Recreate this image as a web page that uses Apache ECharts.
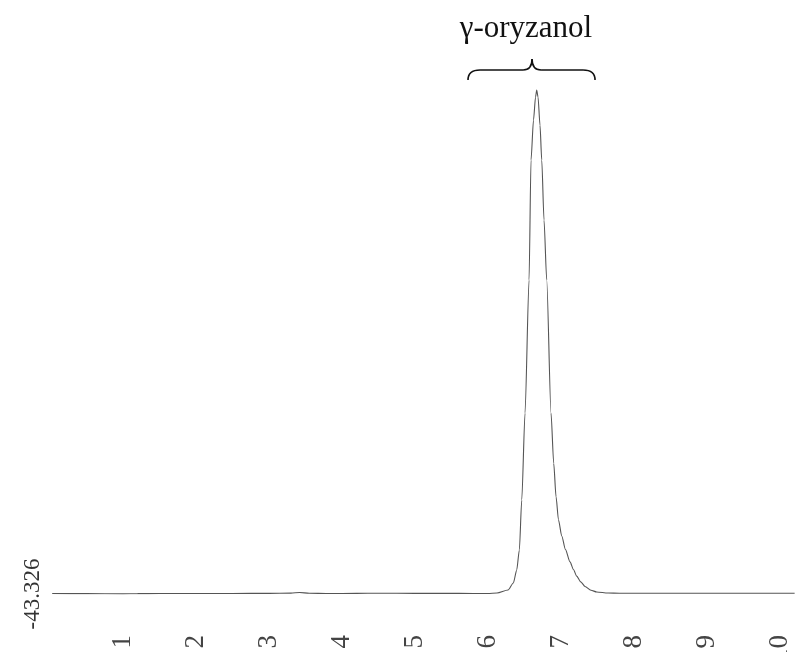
<!DOCTYPE html>
<html>
<head>
<meta charset="utf-8">
<script src="https://cdn.jsdelivr.net/npm/echarts@6/dist/echarts.min.js"></script>
<style>
html,body{margin:0;padding:0;background:#fff;}
#chart{width:795px;height:652px;}
</style>
</head>
<body>
<div id="chart"></div>
<script>
// Retention time (min)
const retentionTime = [0.03, 0.5, 1.0, 1.2, 1.5, 2.0, 2.5, 3.0, 3.3, 3.42, 3.55, 3.8, 4.2, 4.5, 5.0, 5.4, 5.8, 6.0, 6.123,
  6.274, 6.347, 6.393, 6.429, 6.462, 6.507, 6.562, 6.589, 6.623, 6.651, 6.667,
  6.685, 6.712, 6.736, 6.767, 6.804, 6.863, 6.900, 6.932, 6.965, 7.010, 7.060, 7.123, 7.170, 7.215, 7.270, 7.329, 7.410, 7.489, 7.644,
  7.8, 8.2, 8.6, 9.0, 9.5, 10.0, 10.2];
// Detector signal
const signal = [-42.4, -42.5, -43.0, -42.6, -42.3, -42.4, -42.2, -42.0, -41.5, -40.2, -41.8, -42.4, -42.0, -41.6, -42.1, -41.8, -42.3, -42.4, -41.2,
  -35.0, -20.3, 6.9, 48.8, 153.4, 335.5, 613.9, 865.1, 948.8, 997.0, 1011.6,
  997.0, 938.0, 865.0, 739.5, 614.0, 335.5, 230.0, 160.0, 112.0, 78.0, 50.0, 24.0, 8.0, -6.0, -18.0, -27.5, -35.5, -39.1, -41.2,
  -41.6, -41.9, -41.7, -41.9, -41.8, -41.9, -41.9];
const xTickLabels = ['1', '2', '3', '4', '5', '6', '7', '8', '9', '10'];
const yMin = -43.326;
const yMax = 1200;
const xMin = 0;
const xMax = 10.205;
const peakName = 'γ-oryzanol';
// brace annotation: [left x, cusp x, right x] and [end y, bar y, cusp y], label position
const braceX = [5.726, 6.603, 7.466];
const braceY = [1032.5, 1053.5, 1076.5];
const labelPos = [6.52, 1140];

const serif = "'Liberation Serif', 'Times New Roman', serif";
const chart = echarts.init(document.getElementById('chart'), null, {renderer: 'canvas'});
const option = {
  animation: false,
  backgroundColor: '#fff',
  grid: {left: 50, right: 0, top: 0, bottom: 58, containLabel: false, outerBoundsMode: 'none'},
  xAxis: {
    type: 'value', min: xMin, max: xMax, interval: 1,
    axisLine: {show: false}, axisTick: {show: false}, splitLine: {show: false},
    axisLabel: {
      rotate: 90, margin: 41, fontSize: 27, fontFamily: serif, color: '#444',
      showMaxLabel: false, hideOverlap: false,
      formatter: function (v) {
        const i = Math.round(v);
        if (Math.abs(v - i) > 1e-6 || i < 1 || i > xTickLabels.length) return '';
        return xTickLabels[i - 1];
      }
    }
  },
  yAxis: {
    type: 'value', min: yMin, max: yMax,
    axisLine: {show: false}, axisTick: {show: false}, splitLine: {show: false},
    axisLabel: {
      rotate: 90, margin: 6, fontSize: 23, fontFamily: serif, color: '#333',
      formatter: function (v) { return Math.abs(v - yMin) < 1e-6 ? String(yMin) : ''; }
    }
  },
  series: [{
    type: 'line',
    data: retentionTime.map((t, i) => [t, signal[i]]),
    showSymbol: false,
    smooth: 0.25,
    smoothMonotone: 'x',
    lineStyle: {color: '#555', width: 1.1}
  }]
};
chart.setOption(option);

const p = (x, y) => chart.convertToPixel({gridIndex: 0}, [x, y]);
const L = p(braceX[0], braceY[0]);
const M = p(braceX[1], braceY[2]);
const R = p(braceX[2], braceY[0]);
const barY = p(braceX[1], braceY[1])[1];
const r = 12, m = 9;
const st = {stroke: '#111', lineWidth: 1.6, fill: null};
const lp = p(labelPos[0], labelPos[1]);
chart.setOption({
  graphic: [
    {type: 'bezierCurve', shape: {x1: L[0], y1: L[1], x2: L[0] + r, y2: barY, cpx1: L[0], cpy1: barY}, style: st},
    {type: 'line', shape: {x1: L[0] + r, y1: barY, x2: M[0] - m, y2: barY}, style: st},
    {type: 'bezierCurve', shape: {x1: M[0] - m, y1: barY, x2: M[0], y2: M[1], cpx1: M[0], cpy1: barY}, style: st},
    {type: 'bezierCurve', shape: {x1: M[0], y1: M[1], x2: M[0] + m, y2: barY, cpx1: M[0], cpy1: barY}, style: st},
    {type: 'line', shape: {x1: M[0] + m, y1: barY, x2: R[0] - r, y2: barY}, style: st},
    {type: 'bezierCurve', shape: {x1: R[0] - r, y1: barY, x2: R[0], y2: R[1], cpx1: R[0], cpy1: barY}, style: st},
    {type: 'text', x: lp[0], y: lp[1], style: {text: peakName, fontSize: 31, fontFamily: serif, fill: '#111', align: 'center', verticalAlign: 'middle'}}
  ]
});
</script>
</body>
</html>
